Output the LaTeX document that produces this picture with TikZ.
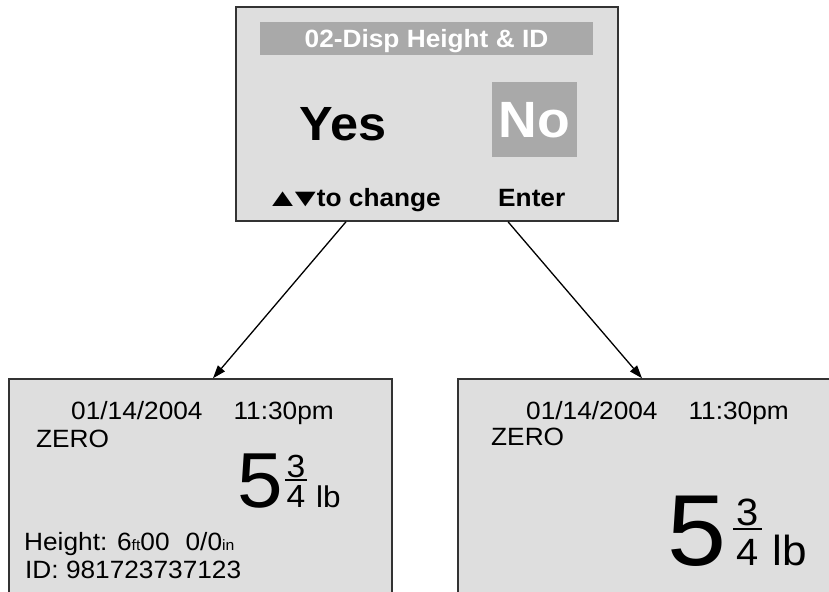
\documentclass[tikz,border=0pt]{standalone}
\usepackage{fontspec}
\usepackage{graphicx}
\setmainfont{Liberation Sans}[FakeStretch=1.05]
\usetikzlibrary{arrows.meta}

\definecolor{screen}{HTML}{DEDEDE}
\definecolor{frame}{HTML}{333333}
\definecolor{barfill}{HTML}{A9A9A9}

\newcommand{\fsz}[1]{\fontsize{#1}{#1}\selectfont}

\tikzset{
  panel/.style={draw=frame, fill=screen, line width=1.5pt, inner sep=0pt},
  txt/.style={anchor=base west, inner sep=0pt, text=black},
  digit/.style={anchor=base, inner sep=0pt, text=black},
  hilite/.style={fill=barfill, inner sep=0pt, text=white, font=\bfseries},
  fracbar/.style={line width=2pt},
  link/.style={line width=1.3pt, -{Triangle[length=13pt,width=9pt]}}
}

\begin{document}
\begin{tikzpicture}[x=1pt, y=-1pt]
\useasboundingbox (0,0) rectangle (829,591);
\clip (0,0) rectangle (829,591);

\node[panel, minimum width=382pt, minimum height=214pt] (menu) at (427,114) {};
\node[panel, minimum width=383pt, minimum height=230pt] (showid) at (200.5,494) {};
\node[panel, minimum width=390pt, minimum height=230pt] (hideid) at (653,494) {};

\node[hilite, minimum width=333pt, minimum height=33pt, font=\fsz{25}\bfseries,
      text height=18pt, text depth=0pt] (title) at (426.5,38.5) {02-Disp Height \& ID};
\node[txt, font=\fsz{48}\bfseries] (yes) at (299,140) {Yes};
\node[hilite, minimum width=85pt, minimum height=75pt, font=\fsz{51}\bfseries,
      text height=36.5pt, text depth=0pt] (no) at (534.5,119.5) {No};
\node[txt, font=\fsz{25}\bfseries] (change) at (265,206)
  {\scalebox{1.35}[1]{▲}\kern-12.5pt\scalebox{1.35}[1]{▼}\kern-6pt to change};
\node[txt, font=\fsz{25}\bfseries] (enter) at (498,206) {Enter};

\node[txt, font=\fsz{25}] (date1) at (71,419) {01/14/2004\hspace{31pt}11:30pm};
\node[txt, font=\fsz{25}] (zero1) at (36,447) {ZERO};
\node[txt, font=\fsz{78}] (five1) at (237,507) {5};
\node[digit, font=\fsz{32}] (num1) at (296,477) {3};
\node[digit, font=\fsz{32}] (den1) at (296,507) {4};
\node[txt, font=\fsz{30}] (lb1) at (316,507) {lb};
\node[txt, font=\fsz{25}] (height) at (24,550) {Height: 6{\fsz{15}ft}00\hspace{16pt}0/0{\fsz{15}in}};
\node[txt, font=\fsz{25}] (id) at (25,578) {ID: 981723737123};

\node[txt, font=\fsz{25}] (date2) at (526,419) {01/14/2004\hspace{31pt}11:30pm};
\node[txt, font=\fsz{25}] (zero2) at (491,445) {ZERO};
\node[txt, font=\fsz{101}] (five2) at (667,565) {5};
\node[digit, font=\fsz{38}] (num2) at (747.5,525) {3};
\node[digit, font=\fsz{38}] (den2) at (747.5,565) {4};
\node[txt, font=\fsz{42}] (lb2) at (772,565) {lb};

\draw[fracbar] (285,480) -- (307,480);
\draw[fracbar] (733,529) -- (762,529);

\coordinate (yesout) at ([xshift=-81pt]menu.south);
\coordinate (noout) at ([xshift=81pt]menu.south);
\coordinate (yesin) at ([xshift=12.5pt]showid.north);
\coordinate (noin) at ([xshift=-11pt]hideid.north);

\draw[link] (yesout) -- (yesin);
\draw[link] (noout) -- (noin);

\end{tikzpicture}
\end{document}
